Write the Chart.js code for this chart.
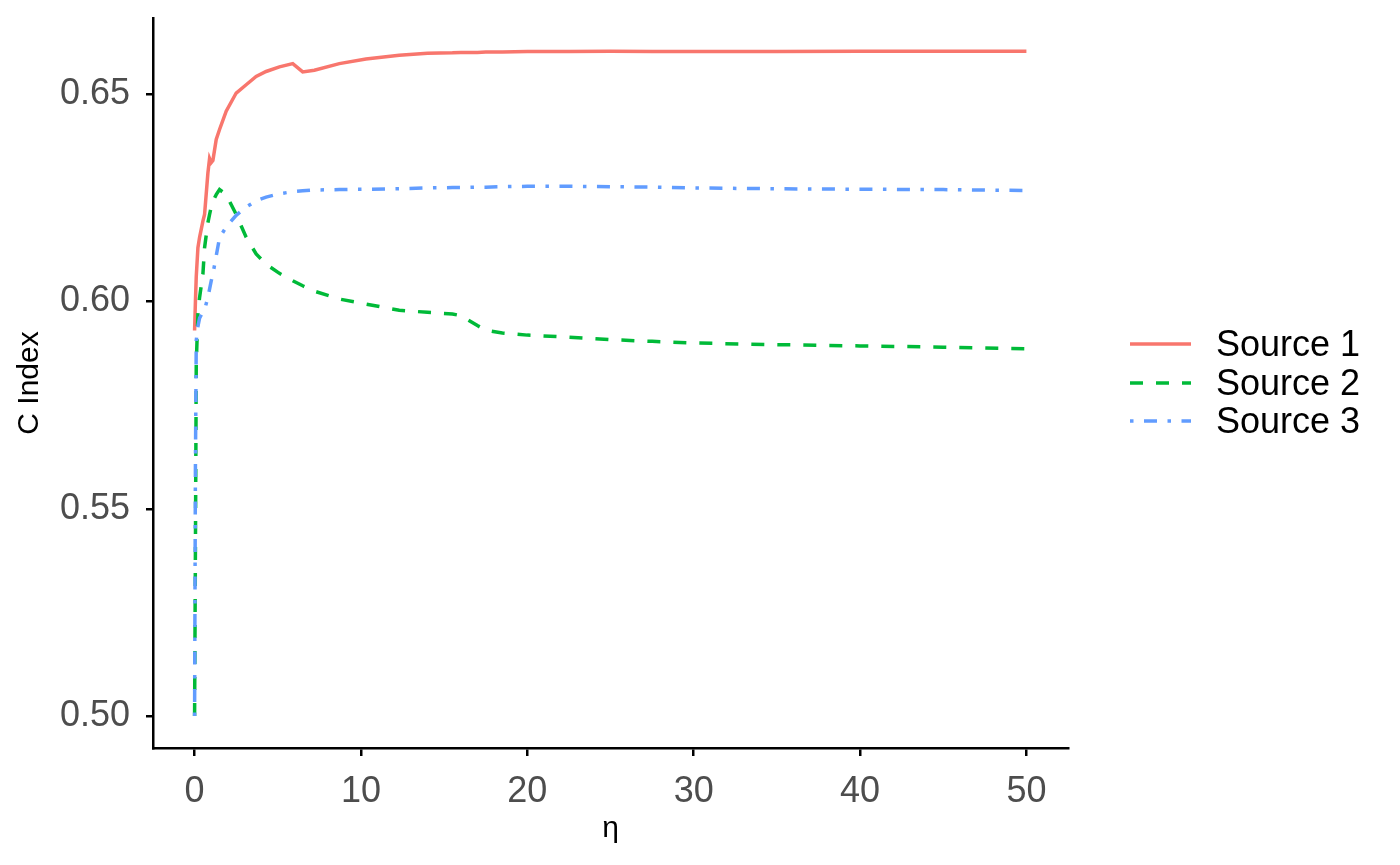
<!DOCTYPE html>
<html>
<head>
<meta charset="utf-8">
<script src="https://cdn.jsdelivr.net/npm/chart.js@4/dist/chart.umd.min.js"></script>
<style>
  body { margin: 0; background: #fff; }
  #wrap { width: 1400px; height: 865px; }
</style>
</head>
<body>
<div id="wrap"><canvas id="cindexChart" width="1400" height="865"></canvas></div>
<script>
// eta grid shared by the three sources
const eta = [0, 0.05, 0.1, 0.2, 0.3, 0.5, 0.6, 0.8, 0.9, 1.0, 1.1, 1.3, 1.5, 1.9, 2.5, 3.1, 3.7, 4.3,
  5.1, 5.9, 6.5, 7.2, 8.7, 10.3, 12.3, 14, 15.5, 16, 17, 17.5, 18.5, 20, 22.5, 25, 27.5, 30, 35, 40, 45, 50];

const source1 = [0.593, 0.600, 0.606, 0.613, 0.6155, 0.6194, 0.621, 0.631, 0.6345, 0.6335, 0.634, 0.6391,
  0.6415, 0.6459, 0.6503, 0.6523, 0.6543, 0.6555, 0.6566, 0.6574, 0.6554, 0.6558, 0.6574, 0.6585, 0.6594,
  0.6599, 0.6600, 0.6601, 0.6601, 0.6602, 0.6602, 0.6603, 0.6603, 0.6604, 0.6603, 0.6603, 0.6603, 0.6604, 0.6604, 0.6604];

const source2 = [0.500, 0.540, 0.585, 0.597, 0.601, 0.6066, 0.613, 0.619, 0.621, 0.6228, 0.6242, 0.6258,
  0.627, 0.6258, 0.621, 0.6155, 0.6115, 0.609, 0.6068, 0.605, 0.6038, 0.6025, 0.6006, 0.5994, 0.5979,
  0.5974, 0.597, 0.5966, 0.5942, 0.5931, 0.5924, 0.5919, 0.5914, 0.5908, 0.5904, 0.59, 0.5896, 0.5893, 0.589, 0.5886];

const source3 = [0.500, 0.560, 0.5906, 0.594, 0.596, 0.5975, 0.598, 0.601, 0.603, 0.605, 0.6066, 0.611,
  0.6154, 0.618, 0.6208, 0.6228, 0.6243, 0.6252, 0.626, 0.6265, 0.6267, 0.6269, 0.627, 0.6271, 0.6272,
  0.6274, 0.6275, 0.6275, 0.6276, 0.6276, 0.6277, 0.6278, 0.6278, 0.6277, 0.6276, 0.6274, 0.6272, 0.6271, 0.627, 0.6268];

const seriesNames = ["Source 1", "Source 2", "Source 3"];
const xTicks = [0, 10, 20, 30, 40, 50];
const yTicks = [0.50, 0.55, 0.60, 0.65];

const FONT = "'Liberation Sans', Arial, sans-serif";

function toPoints(ys) {
  return eta.map((x, i) => ({ x: x, y: ys[i] }));
}

// legend on the right, drawn like ggplot's key
const sideLegend = {
  id: "sideLegend",
  afterDraw(chart) {
    const ctx = chart.ctx;
    const rows = [344, 383, 421];
    chart.data.datasets.forEach((ds, i) => {
      const y = rows[i];
      ctx.save();
      ctx.strokeStyle = ds.borderColor;
      ctx.lineWidth = ds.borderWidth;
      ctx.lineCap = "butt";
      ctx.setLineDash(ds.borderDash || []);
      ctx.beginPath();
      ctx.moveTo(1130, y);
      ctx.lineTo(1191, y);
      ctx.stroke();
      ctx.setLineDash([]);
      ctx.fillStyle = "#000";
      ctx.font = "36px " + FONT;
      ctx.textBaseline = "middle";
      ctx.textAlign = "left";
      ctx.fillText(ds.label, 1216, y + 2);
      ctx.restore();
    });
  }
};

const ctx = document.getElementById("cindexChart").getContext("2d");
new Chart(ctx, {
  type: "line",
  data: {
    datasets: [
      {
        label: seriesNames[0],
        data: toPoints(source1),
        borderColor: "#F8766D",
        borderWidth: 3.5,
        pointRadius: 0,
        fill: false,
        order: 3,
      },
      {
        label: seriesNames[1],
        data: toPoints(source2),
        borderColor: "#00BA38",
        borderWidth: 3.5,
        borderDash: [13, 13],
        pointRadius: 0,
        fill: false,
        order: 2,
      },
      {
        label: seriesNames[2],
        data: toPoints(source3),
        borderColor: "#619CFF",
        borderWidth: 3.5,
        borderDash: [3.5, 10.5, 13, 10.5],
        pointRadius: 0,
        fill: false,
        order: 1,
      },
    ],
  },
  options: {
    responsive: false,
    devicePixelRatio: 1,
    animation: false,
    layout: { padding: { left: 0, right: 332, top: 18, bottom: 0 } },
    plugins: {
      legend: { display: false },
      tooltip: { enabled: false },
    },
    scales: {
      x: {
        type: "linear",
        min: -2.5,
        max: 52.5,
        afterBuildTicks: (s) => { s.ticks = xTicks.map((v) => ({ value: v })); },
        afterFit: (s) => { s.height = 117; s.paddingLeft = 0; s.paddingRight = 0; },
        ticks: {
          color: "#4D4D4D",
          font: { family: FONT, size: 36 },
          padding: 14,
          maxRotation: 0,
          autoSkip: false,
        },
        grid: { drawOnChartArea: false, color: "#000", lineWidth: 2.5, tickLength: 8 },
        border: { color: "#000", width: 2.5 },
        title: {
          display: true,
          text: "η",
          color: "#000",
          font: { family: FONT, size: 30 },
          padding: { top: 0, bottom: 18 },
        },
      },
      y: {
        type: "linear",
        min: 0.4923,
        max: 0.6684,
        afterBuildTicks: (s) => { s.ticks = yTicks.map((v) => ({ value: v })); },
        afterFit: (s) => { s.width = 153; s.paddingTop = 0; s.paddingBottom = 0; },
        ticks: {
          color: "#4D4D4D",
          font: { family: FONT, size: 36 },
          padding: 16,
          callback: (v) => v.toFixed(2),
        },
        grid: { drawOnChartArea: false, color: "#000", lineWidth: 2.5, tickLength: 7 },
        border: { color: "#000", width: 2.5 },
        title: {
          display: true,
          text: "C Index",
          color: "#000",
          font: { family: FONT, size: 30 },
          padding: { top: 12, bottom: 0 },
        },
      },
    },
  },
  plugins: [sideLegend],
});
</script>
</body>
</html>
